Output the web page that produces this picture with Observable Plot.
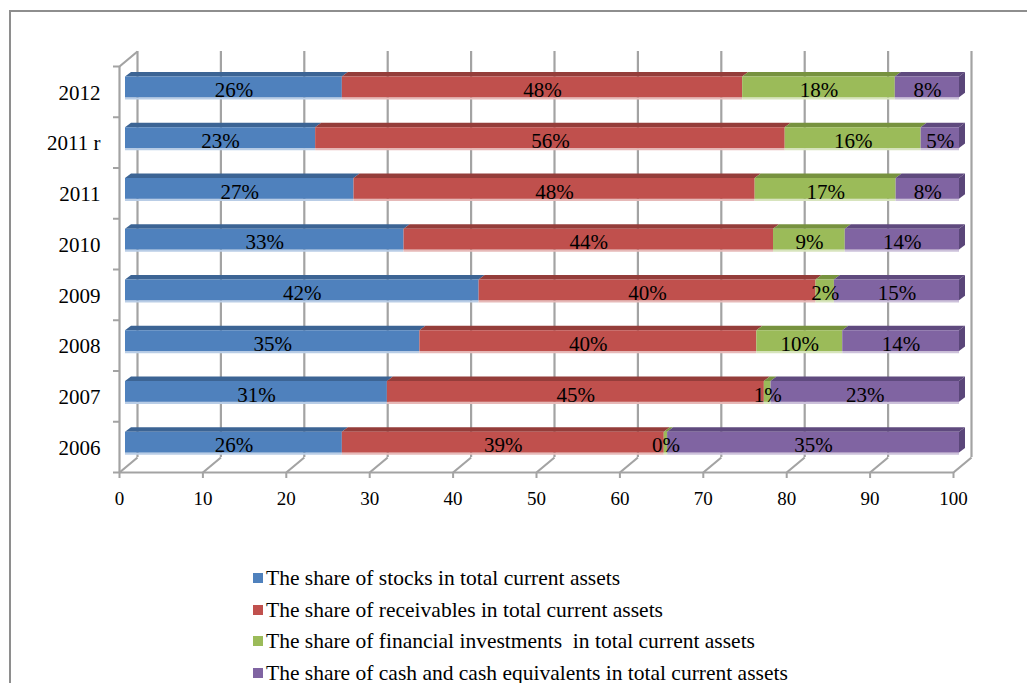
<!DOCTYPE html>
<html>
<head>
<meta charset="utf-8">
<script src="https://cdn.jsdelivr.net/npm/d3@7"></script>
<script src="https://cdn.jsdelivr.net/npm/@observablehq/plot@0.6"></script>
<style>
  html, body { margin: 0; padding: 0; background: #fff; }
  #wrap { position: relative; width: 1027px; height: 683px; overflow: hidden; background: #fff; }
  #frame { position: absolute; left: 9px; top: 10px; width: 1200px; height: 900px; border: 2px solid #8e8e8e; box-sizing: border-box; }
  #chart { position: absolute; left: 0; top: 0; }
  .lg-sq { position: absolute; width: 10px; height: 10px; }
  .lg-tx { position: absolute; font-family: "Liberation Serif", "Times New Roman", serif; font-size: 21.5px; line-height: 24px; white-space: pre; color: #000; }
</style>
</head>
<body>
<div id="wrap">
  <div id="frame"></div>
  <div id="chart"></div>
  <div id="legend"></div>
</div>
<script>
// ---- data ----
const years = ["2012", "2011 r", "2011", "2010", "2009", "2008", "2007", "2006"];
const seriesNames = [
  "The share of stocks in total current assets",
  "The share of receivables in total current assets",
  "The share of financial investments  in total current assets",
  "The share of cash and cash equivalents in total current assets"
];
const stocks      = [26.0, 22.8, 27.4, 33.4, 42.4, 35.3, 31.4, 26.0];
const receivables = [48.0, 56.3, 48.1, 44.3, 40.4, 40.4, 45.2, 38.6];
const investments = [18.3, 16.3, 16.9,  8.6,  2.2, 10.3,  0.8,  0.4];
const cash        = [ 7.7,  4.6,  7.6, 13.7, 15.0, 14.0, 22.6, 35.0];
const xTicks = [0, 10, 20, 30, 40, 50, 60, 70, 80, 90, 100];

// ---- styles ----
const frontColors = ["#4f81bd", "#c0504d", "#9bbb59", "#8064a2"];
const topColors   = ["#3c6494", "#943d3a", "#77923f", "#5f4a7e"];
const sideColor   = "#5a4679";
const glowColors  = ["#b9cde6", "#e6b9b8", "#d7e4bd", "#ccc1da"];
const gridColor   = "#a3a3a3";

const W = 1027, H = 520;
const mL = 119, mR = W - 953, mT = 66, mB = H - 472;
const XU = (W - mL - mR) / 100;      // px per x unit
const YU = (H - mT - mB) / years.length; // px per band
const FT = 10.5 / YU, FB = 31.3 / YU;    // front face top / bottom within band
const SX = 6 / XU, SY = 4.5 / YU;        // bar depth vector
const DX = 18 / XU, DY = 15 / YU;        // wall depth vector
const BAR_DX = 6;

// ---- table ----
const vals = [stocks, receivables, investments, cash];
const rows = [];
years.forEach((yr, i) => {
  let acc = 0;
  vals.forEach((arr, k) => {
    const v = arr[i];
    rows.push({year: yr, i, k, value: v, x1: acc, x2: acc + v, label: Math.round(v) + "%"});
    acc += v;
  });
});
const topPts = rows.flatMap((r, j) => [
  {z: j, k: r.k, x1: r.x1, x2: r.x2, y: r.i + FT},
  {z: j, k: r.k, x1: r.x1 + SX, x2: r.x2 + SX, y: r.i + FT - SY}
]);
const sidePts = years.flatMap((yr, i) => [
  {z: i, x: 100, y1: i + FT, y2: i + FB},
  {z: i, x: 100 + SX, y1: i + FT - SY, y2: i + FB - SY}
]);
const yBounds = d3.range(0, years.length + 1);

const serif = "Liberation Serif, Times New Roman, serif";

const plot = Plot.plot({
  width: W, height: H,
  marginLeft: mL, marginRight: mR, marginTop: mT, marginBottom: mB,
  x: {domain: [0, 100], axis: null},
  y: {domain: [0, years.length], reverse: true, axis: null},
  color: {type: "identity"},
  style: {fontFamily: serif, background: "transparent", overflow: "visible"},
  marks: [
    // back wall gridlines
    Plot.ruleX(xTicks, {dx: 18, dy: -15, stroke: gridColor, strokeWidth: 2.2}),
    // left front wall edge
    Plot.ruleX([0], {stroke: gridColor, strokeWidth: 2.2}),
    // top-left diagonal
    Plot.link([0], {x1: () => 0, y1: () => 0, x2: () => DX, y2: () => -DY, stroke: gridColor, strokeWidth: 2.2}),
    // floor front line
    Plot.ruleY([years.length], {x1: 0, x2: 100, stroke: gridColor, strokeWidth: 2.2}),
    // floor diagonals
    Plot.link(xTicks, {x1: d => d, y1: () => years.length, x2: d => d + DX, y2: () => years.length - DY, stroke: gridColor, strokeWidth: 2.2}),
    // x ticks
    Plot.ruleX(xTicks, {y1: () => years.length, y2: () => years.length + 6 / YU, stroke: gridColor, strokeWidth: 2}),
    // y ticks
    Plot.ruleY(yBounds, {x1: () => -6 / XU, x2: () => 0, stroke: gridColor, strokeWidth: 2}),
    // bar top faces
    Plot.areaX(topPts, {x1: "x1", x2: "x2", y: "y", z: "z", fill: d => topColors[d.k], dx: BAR_DX}),
    // bar glow
    Plot.rect(rows, {x1: "x1", x2: "x2", y1: d => d.i + FB, y2: d => d.i + FB + 2.2 / YU, fill: d => glowColors[d.k], dx: BAR_DX}),
    // bar front faces
    Plot.rect(rows, {x1: "x1", x2: "x2", y1: d => d.i + FT, y2: d => d.i + FB, fill: d => frontColors[d.k], dx: BAR_DX}),
    // side face of bar ends
    Plot.areaY(sidePts, {x: "x", y1: "y1", y2: "y2", z: "z", fill: sideColor, dx: BAR_DX}),
    // value labels
    Plot.text(rows, {x: d => (d.x1 + d.x2) / 2, y: d => d.i + 23.8 / YU, text: "label", dx: BAR_DX, fontSize: 21, fill: "#000", fontFamily: serif}),
    // category labels
    Plot.text(years, {x: () => 0, y: (d, i) => i + 0.5 + 1 / YU, text: d => d, textAnchor: "end", dx: -19, fontSize: 21, fill: "#000", fontFamily: serif}),
    // x tick labels
    Plot.text(xTicks, {x: d => d, y: () => years.length, dy: 26.6, text: d => String(d), fontSize: 19, fill: "#000", fontFamily: serif})
  ]
});
document.getElementById("chart").appendChild(plot);

// ---- legend ----
const lg = document.getElementById("legend");
seriesNames.forEach((name, k) => {
  const sq = document.createElement("div");
  sq.className = "lg-sq";
  sq.style.left = "253px";
  sq.style.top = (573 + 31.5 * k) + "px";
  sq.style.background = frontColors[k];
  lg.appendChild(sq);
  const tx = document.createElement("div");
  tx.className = "lg-tx";
  tx.style.left = "266px";
  tx.style.top = (566 + 31.5 * k) + "px";
  tx.textContent = name;
  lg.appendChild(tx);
});
</script>
</body>
</html>
